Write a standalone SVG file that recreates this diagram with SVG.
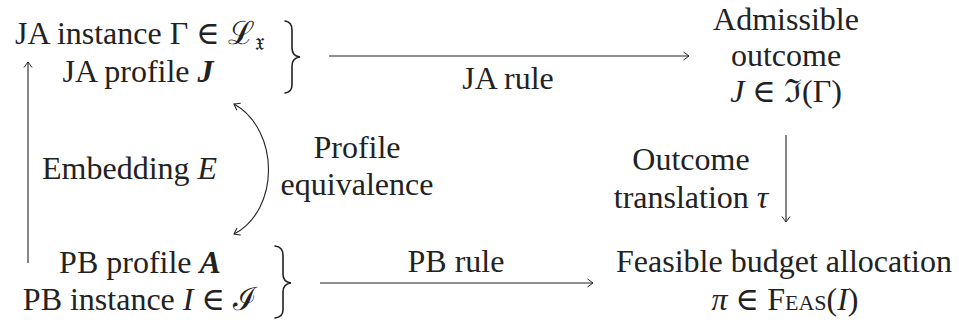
<svg xmlns="http://www.w3.org/2000/svg" width="959" height="325" viewBox="0 0 959 325">
<defs>
<marker id="arr" viewBox="-7 -6 9 12" markerWidth="9" markerHeight="12" refX="0" refY="0" orient="auto-start-reverse" markerUnits="userSpaceOnUse">
<path d="M-5.5,-4 Q-1.5,-1.2 0,0 Q-1.5,1.2 -5.5,4" fill="none" stroke="#222" stroke-width="1"/>
</marker>
</defs>
<style>
text{font-family:"Liberation Serif","DejaVu Serif",serif;font-size:32px;fill:#222}
.m{font-style:italic}
.b{font-weight:bold;font-style:italic}
.c{text-anchor:middle}
.ln{stroke:#222;stroke-width:1.1;fill:none}
.br{stroke:#222;stroke-width:1.6;fill:none;stroke-linecap:round}
</style>
<rect width="959" height="325" fill="#fff"/>

<g id="ja-input">
<text class="c" x="140" y="44">JA instance Γ ∈ <tspan font-family="DejaVu Serif, serif">ℒ</tspan><tspan font-size="24" dy="6" font-family="DejaVu Sans, serif">𝔵</tspan></text>
<text class="c" x="138" y="82">JA profile <tspan class="b">J</tspan></text>
<path class="br" d="M285,21 Q292,22 292,30 L292,48 Q292,56 300,57 Q292,58 292,66 L292,85 Q292,92 285,93"/>
</g>

<g id="ja-outcome">
<text class="c" x="786" y="30">Admissible</text>
<text class="c" x="786" y="66">outcome</text>
<text class="c" x="786" y="102"><tspan class="m">J</tspan> ∈ <tspan font-family="DejaVu Serif, serif">ℑ</tspan>(Γ)</text>
</g>

<g id="pb-input">
<text class="c" x="140" y="273">PB profile <tspan class="b">A</tspan></text>
<text class="c" x="140" y="310">PB instance <tspan class="m">I</tspan> ∈ <tspan font-family="DejaVu Serif, serif">ℐ</tspan></text>
<path class="br" d="M275,246 Q283,247 283,255 L283,274 Q283,282 291,283 Q283,284 283,292 L283,310 Q283,317 275,318"/>
</g>

<g id="pb-outcome">
<text class="c" x="784" y="272">Feasible budget allocation</text>
<text class="c" x="785" y="310"><tspan class="m">π</tspan> ∈ <tspan font-variant="small-caps">Feas</tspan>(<tspan class="m">I</tspan>)</text>
</g>

<g id="connectors">
<line class="ln" x1="329" y1="56" x2="689" y2="56" marker-end="url(#arr)"/>
<text class="c" x="508" y="89">JA rule</text>

<line class="ln" x1="320" y1="283" x2="593" y2="283" marker-end="url(#arr)"/>
<text class="c" x="456" y="272">PB rule</text>

<line class="ln" x1="28" y1="263" x2="28" y2="62" marker-end="url(#arr)"/>
<text x="42" y="179">Embedding <tspan class="m">E</tspan></text>

<path class="ln" d="M234,104 C280,130 280,210 234,234" marker-start="url(#arr)" marker-end="url(#arr)"/>
<text class="c" x="357" y="158">Profile</text>
<text class="c" x="357" y="195">equivalence</text>

<line class="ln" x1="786" y1="135" x2="786" y2="222" marker-end="url(#arr)"/>
<text class="c" x="691" y="170">Outcome</text>
<text class="c" x="691" y="208">translation <tspan class="m">τ</tspan></text>
</g>
</svg>
